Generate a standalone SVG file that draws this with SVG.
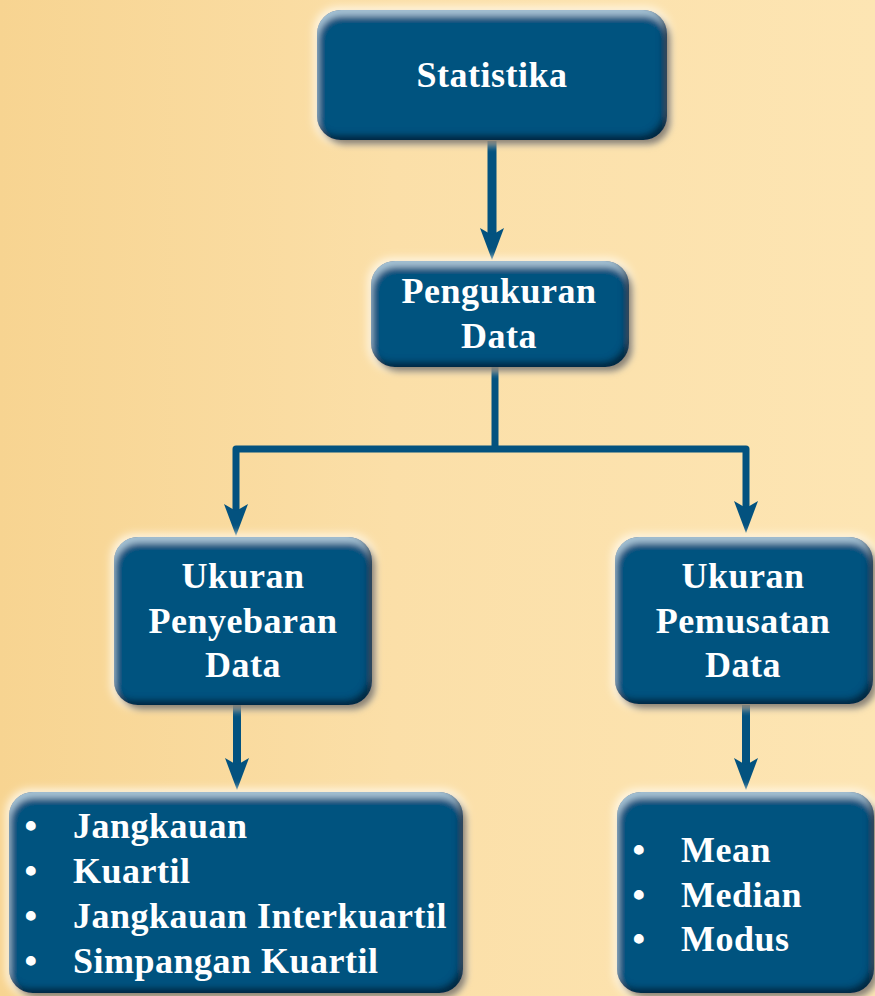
<svg xmlns="http://www.w3.org/2000/svg" width="875" height="996" viewBox="0 0 875 996">
  <defs>
    <linearGradient id="bg" x1="0" y1="0" x2="1" y2="0">
      <stop offset="0" stop-color="#F7D491"/>
      <stop offset="0.45" stop-color="#FBDFA8"/>
      <stop offset="1" stop-color="#FDE5B3"/>
    </linearGradient>
    <filter id="bevel" x="-15%" y="-20%" width="135%" height="145%">
      <feMorphology in="SourceAlpha" operator="dilate" radius="3" result="dil"/>
      <feGaussianBlur in="dil" stdDeviation="4" result="glowB"/>
      <feFlood flood-color="#FFF8E8" flood-opacity="0.95"/>
      <feComposite in2="glowB" operator="in" result="glow"/>
      <feGaussianBlur in="SourceAlpha" stdDeviation="3" result="sb"/>
      <feOffset in="sb" dx="4" dy="5" result="so"/>
      <feFlood flood-color="#3B2A0E" flood-opacity="0.75"/>
      <feComposite in2="so" operator="in" result="shadow"/>
      <feGaussianBlur in="SourceAlpha" stdDeviation="3" result="ib"/>
      <feOffset in="ib" dx="1" dy="6" result="ibd"/>
      <feComposite in="SourceAlpha" in2="ibd" operator="out" result="topBand"/>
      <feFlood flood-color="#A9C6D8" flood-opacity="0.95"/>
      <feComposite in2="topBand" operator="in" result="hi"/>
      <feOffset in="ib" dx="-4" dy="-5" result="ibu"/>
      <feComposite in="SourceAlpha" in2="ibu" operator="out" result="botBand"/>
      <feFlood flood-color="#001E33" flood-opacity="0.9"/>
      <feComposite in2="botBand" operator="in" result="lo"/>
      <feMerge>
        <feMergeNode in="glow"/>
        <feMergeNode in="shadow"/>
        <feMergeNode in="SourceGraphic"/>
        <feMergeNode in="hi"/>
        <feMergeNode in="lo"/>
      </feMerge>
    </filter>
    <marker id="ah" markerUnits="userSpaceOnUse" markerWidth="32" markerHeight="24" viewBox="0 0 32 24" refX="12" refY="12" orient="auto">
      <path d="M0,0 L32,12 L0,24 L7,12 Z" fill="#03527F"/>
    </marker>
    <style>
      .box { fill: #03537F; filter: url(#bevel); }
      .t { font-family: "Liberation Serif", "Times New Roman", serif; font-weight: bold; font-size: 36px; fill: #FFFFFF; letter-spacing: 0.5px; }
      .c { text-anchor: middle; }
      .conn { fill: none; stroke: #03527F; stroke-linejoin: round; }
    </style>
  </defs>
  <rect x="0" y="0" width="875" height="996" fill="url(#bg)"/>

  <g id="connectors">
    <path class="conn" d="M492,141 V240" stroke-width="9" marker-end="url(#ah)"/>
    <path class="conn" d="M495,367 V449" stroke-width="7"/>
    <path class="conn" d="M495,449 H236 V516" stroke-width="7" marker-end="url(#ah)"/>
    <path class="conn" d="M495,449 H746 V513" stroke-width="7" marker-end="url(#ah)"/>
    <path class="conn" d="M237,705 V770" stroke-width="8" marker-end="url(#ah)"/>
    <path class="conn" d="M746,705 V770" stroke-width="8" marker-end="url(#ah)"/>
  </g>

  <g id="statistika">
    <rect class="box" x="317" y="10" width="350" height="130" rx="24"/>
    <text class="t c" x="492" y="87">Statistika</text>
  </g>

  <g id="pengukuran-data">
    <rect class="box" x="371" y="261" width="258" height="106" rx="24"/>
    <text class="t c" x="499" y="303">Pengukuran</text>
    <text class="t c" x="499" y="348">Data</text>
  </g>

  <g id="ukuran-penyebaran">
    <rect class="box" x="114" y="537" width="258" height="168" rx="24"/>
    <text class="t c" x="243" y="588">Ukuran</text>
    <text class="t c" x="243" y="633">Penyebaran</text>
    <text class="t c" x="243" y="677">Data</text>
  </g>

  <g id="ukuran-pemusatan">
    <rect class="box" x="615" y="537" width="258" height="167" rx="24"/>
    <text class="t c" x="743" y="588">Ukuran</text>
    <text class="t c" x="743" y="633">Pemusatan</text>
    <text class="t c" x="743" y="677">Data</text>
  </g>

  <g id="list-penyebaran">
    <rect class="box" x="9" y="792" width="454" height="201" rx="24"/>
    <text class="t c" x="31" y="838">•</text>
    <text class="t" x="73" y="838">Jangkauan</text>
    <text class="t c" x="31" y="883">•</text>
    <text class="t" x="73" y="883">Kuartil</text>
    <text class="t c" x="31" y="928">•</text>
    <text class="t" x="73" y="928">Jangkauan Interkuartil</text>
    <text class="t c" x="31" y="973">•</text>
    <text class="t" x="73" y="973">Simpangan Kuartil</text>
  </g>

  <g id="list-pemusatan">
    <rect class="box" x="617" y="792" width="257" height="201" rx="24"/>
    <text class="t c" x="639" y="862">•</text>
    <text class="t" x="681" y="862">Mean</text>
    <text class="t c" x="639" y="907">•</text>
    <text class="t" x="681" y="907">Median</text>
    <text class="t c" x="639" y="951">•</text>
    <text class="t" x="681" y="951">Modus</text>
  </g>
</svg>
